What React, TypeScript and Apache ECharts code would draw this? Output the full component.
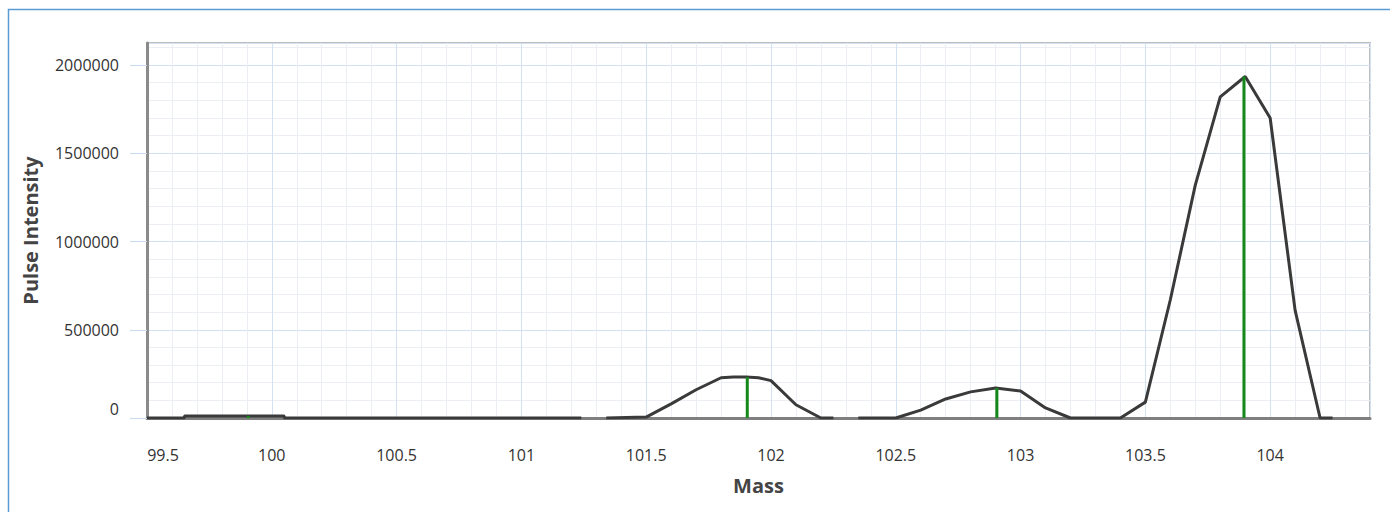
import React, { useEffect, useRef } from "react";
import * as echarts from "echarts";

// Profile (mass, pulse intensity); null marks a break in the trace
const massValues: number[] = [
  99.5, 99.65, 99.65, 100.05, 100.05, 100.5, 101.0, 101.24, 101.29, 101.34,
  101.5, 101.6, 101.7, 101.8, 101.85, 101.9, 101.95, 102.0, 102.1, 102.2,
  102.25, 102.3, 102.35, 102.5, 102.6, 102.7, 102.8, 102.9, 103.0, 103.1,
  103.2, 103.3, 103.4, 103.5, 103.6, 103.7, 103.8, 103.9, 104.0, 104.1,
  104.2, 104.25,
];
const intensityValues: (number | null)[] = [
  0, 0, 12000, 12000, 0, 0, 0, 0, null, 0,
  5000, 80000, 160000, 228000, 232000, 232000, 228000, 212000, 75000, 0,
  0, null, 0, 0, 45000, 108000, 148000, 170000, 153000, 57000,
  0, 0, 0, 90000, 670000, 1320000, 1820000, 1935000, 1700000, 610000,
  0, 0,
];

// Centroid sticks
const stickMass: number[] = [99.906, 101.905, 102.905, 103.895];
const stickIntensity: number[] = [12000, 232000, 170000, 1935000];

const xTickLabels: string[] = ["99.5", "100", "100.5", "101", "101.5", "102", "102.5", "103", "103.5", "104"];

const FONT = "'Open Sans', 'Noto Sans', sans-serif";

export default function App() {
  const ref = useRef<HTMLDivElement>(null);
  useEffect(() => {
    if (!ref.current) return;
    const chart = echarts.init(ref.current, undefined, { renderer: "svg" });
    const lineData = massValues.map((m, i) => [m, intensityValues[i] === null ? "-" : intensityValues[i]]);
    const stickData = stickMass.map((m, i) => [m, stickIntensity[i]]);
    chart.setOption({
      animation: false,
      backgroundColor: "#ffffff",
      grid: {
        left: 147,
        top: 43,
        right: 20,
        bottom: 94,
        show: true,
        borderColor: "#bdbdbd",
        borderWidth: 2,
        backgroundColor: "transparent",
      },
      graphic: [
        {
          type: "polyline",
          shape: { points: [[8.5, 520], [8.5, 9.5], [1395, 9.5]] },
          style: { fill: "none", stroke: "#5b9bd5", lineWidth: 1.5 },
          silent: true,
          z: -10,
        },
      ],
      xAxis: {
        type: "value",
        min: 99.5,
        max: 104.4,
        interval: 0.5,
        name: "Mass",
        nameLocation: "middle",
        nameGap: 57,
        nameTextStyle: { fontFamily: FONT, fontSize: 20, fontWeight: "bold", color: "#444" },
        axisLine: { show: true, onZero: false, lineStyle: { color: "#7f7f7f", width: 3 } },
        axisTick: { show: false },
        minorTick: { show: false, splitNumber: 5 },
        splitLine: { show: true, lineStyle: { color: "#d3e1f2", width: 1 } },
        minorSplitLine: { show: true, lineStyle: { color: "#ebeff4", width: 1 } },
        axisLabel: {
          showMaxLabel: false,
          margin: 29,
          fontFamily: FONT,
          fontSize: 16,
          color: "#333",
          formatter: (v: number) => {
            const idx = Math.round((v - 99.5) / 0.5);
            const s = xTickLabels[idx] ?? "";
            return idx === 0 ? "{first|" + s + "}" : s;
          },
          rich: {
            first: { fontFamily: FONT, fontSize: 16, color: "#333", padding: [0, 0, 0, 32] },
          },
        },
      },
      yAxis: {
        type: "value",
        min: 0,
        max: 2125000,
        interval: 500000,
        name: "Pulse Intensity",
        nameLocation: "middle",
        nameGap: 107,
        nameTextStyle: { fontFamily: FONT, fontSize: 20, fontWeight: "bold", color: "#444" },
        axisLine: { show: true, lineStyle: { color: "#8a8a8a", width: 3 } },
        axisTick: { show: true, length: 17, lineStyle: { color: "#c9dbf0", width: 1 } },
        minorTick: { show: false, splitNumber: 5 },
        splitLine: { show: true, lineStyle: { color: "#d3e1f2", width: 1 } },
        minorSplitLine: { show: true, lineStyle: { color: "#ebeff4", width: 1 } },
        axisLabel: {
          showMaxLabel: false,
          margin: 28,
          fontFamily: FONT,
          fontSize: 16,
          color: "#333",
          formatter: (v: number) => (v === 0 ? "{zero|0}" : String(v)),
          rich: {
            zero: { fontFamily: FONT, fontSize: 16, color: "#333", padding: [0, 0, 18, 0] },
          },
        },
      },
      series: [
        {
          type: "line",
          data: lineData,
          showSymbol: false,
          connectNulls: false,
          lineStyle: { color: "#3a3a3a", width: 3 },
          itemStyle: { color: "#3a3a3a" },
          z: 3,
        },
        {
          type: "bar",
          data: stickData,
          barWidth: 3,
          itemStyle: { color: "#14891a" },
          z: 4,
        },
      ],
    });
    return () => chart.dispose();
  }, []);
  return (
    <div
      ref={ref}
      style={{ position: "fixed", left: 0, top: 0, width: 1390, height: 512, background: "#fff" }}
    />
  );
}
